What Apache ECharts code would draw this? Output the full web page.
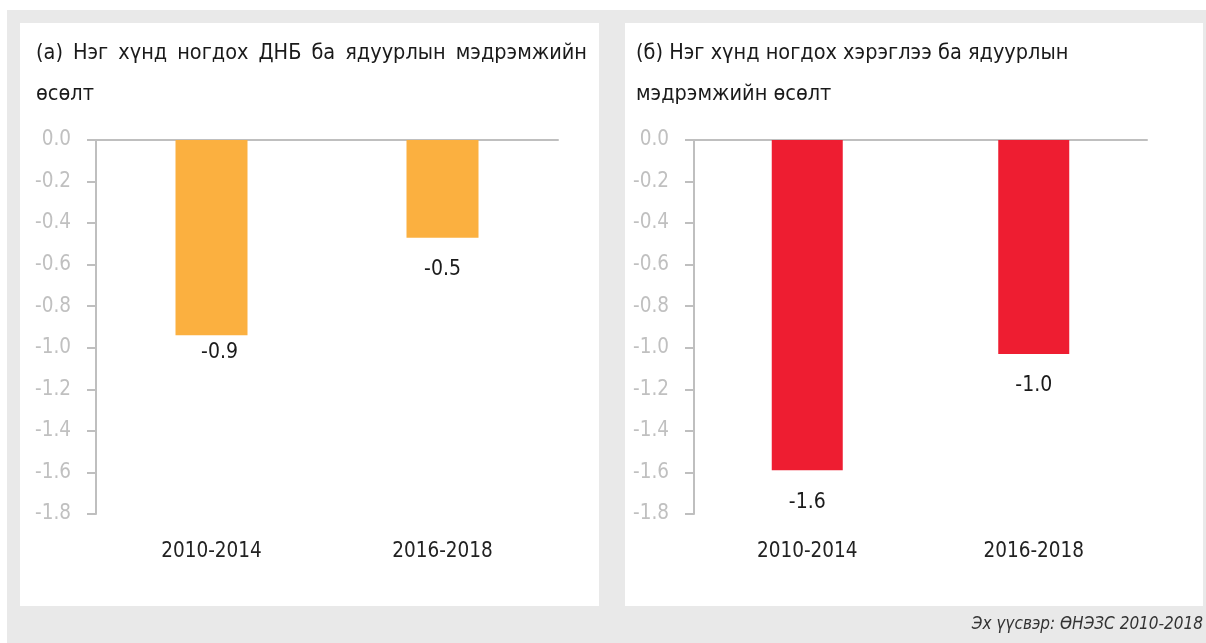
<!DOCTYPE html>
<html><head><meta charset="utf-8">
<script src="https://cdn.jsdelivr.net/npm/echarts@6/dist/echarts.min.js"></script>
<style>html,body{margin:0;padding:0;background:#fff}#c{width:1206px;height:643px}</style>
</head><body><div id="c"></div>
<script>
const categories = ['2010-2014', '2016-2018'];
const gdpValues = [-0.94, -0.47];
const consValues = [-1.59, -1.03];
const yTicks = { min: -1.8, max: 0, interval: 0.2 };
const titleA = '(а) \u2009Нэг \u2009хүнд \u2009ногдох \u2009ДНБ \u2009ба \u2009ядуурлын \u2009мэдрэмжийн\nөсөлт';
const titleB = '(б) Нэг хүнд ногдох хэрэглээ ба ядуурлын\nмэдрэмжийн өсөлт';
const sourceText = 'Эх үүсвэр: ӨНЭЗС 2010-2018';

const FONT = '"Liberation Sans Narrow", "DejaVu Sans Condensed", "Roboto", sans-serif';
const AX = '#bfbfbf';

function yAxis(gi) {
  return {
    type: 'value', gridIndex: gi, min: yTicks.min, max: yTicks.max, interval: yTicks.interval,
    axisLine: { show: true, lineStyle: { color: AX, width: 2 } },
    axisTick: { show: true, length: 9, lineStyle: { color: AX, width: 2 } },
    splitLine: { show: false },
    axisLabel: { color: '#c0c0c0', fontFamily: FONT, fontSize: 20.5, margin: 25,
      formatter: v => v.toFixed(1) }
  };
}
function xAxes(gi) {
  return [
    { type: 'category', gridIndex: gi, data: categories, position: 'top',
      axisLine: { show: true, onZero: false, lineStyle: { color: AX, width: 2 } },
      axisTick: { show: false }, axisLabel: { show: false } },
    { type: 'category', gridIndex: gi, data: categories, position: 'bottom',
      axisLine: { show: false, onZero: false }, axisTick: { show: false },
      axisLabel: { color: '#222', fontFamily: FONT, fontSize: 20.5, margin: 27 } }
  ];
}
function labelData(vals, offsets) {
  return vals.map((v, i) => ({ value: v, label: offsets[i] }));
}
const valueLabel = { show: true, position: 'bottom', distance: 21.5, color: '#1a1a1a', fontFamily: FONT, fontSize: 21,
  formatter: p => p.value.toFixed(1) };

const chart = echarts.init(document.getElementById('c'), null, { renderer: 'canvas' });
chart.setOption({
  animation: false,
  graphic: [
    { type: 'rect', shape: { x: 7, y: 10, width: 1199, height: 633 }, style: { fill: '#e9e9e9' }, z: -10 },
    { type: 'rect', shape: { x: 20, y: 23, width: 579, height: 583 }, style: { fill: '#ffffff' }, z: -9 },
    { type: 'rect', shape: { x: 625, y: 23, width: 578, height: 583 }, style: { fill: '#ffffff' }, z: -9 },
    { type: 'text', right: 3, top: 616, style: { text: sourceText, fill: '#333', fontFamily: FONT,
      fontSize: 17, fontStyle: 'italic' } }
  ],
  title: [
    { text: titleA, left: 31, top: 28, textStyle: { fontFamily: FONT, fontSize: 21.5, fontWeight: 'normal', color: '#1a1a1a', lineHeight: 41 } },
    { text: titleB, left: 631, top: 28, textStyle: { fontFamily: FONT, fontSize: 21.5, fontWeight: 'normal', color: '#1a1a1a', lineHeight: 41 } }
  ],
  grid: [
    { left: 96, top: 140, width: 462, height: 374 },
    { left: 694, top: 140, width: 453, height: 374 }
  ],
  xAxis: [...xAxes(0), ...xAxes(1)],
  yAxis: [yAxis(0), yAxis(1)],
  series: [
    { type: 'bar', xAxisIndex: 0, yAxisIndex: 0, barWidth: 72,
      itemStyle: { color: '#fbb040' }, label: valueLabel,
      data: labelData(gdpValues, [{ distance: 7, offset: [8, 0] }, {}]) },
    { type: 'bar', xAxisIndex: 2, yAxisIndex: 1, barWidth: 71,
      itemStyle: { color: '#ee1d31' }, label: valueLabel,
      data: consValues }
  ]
});
</script></body></html>
